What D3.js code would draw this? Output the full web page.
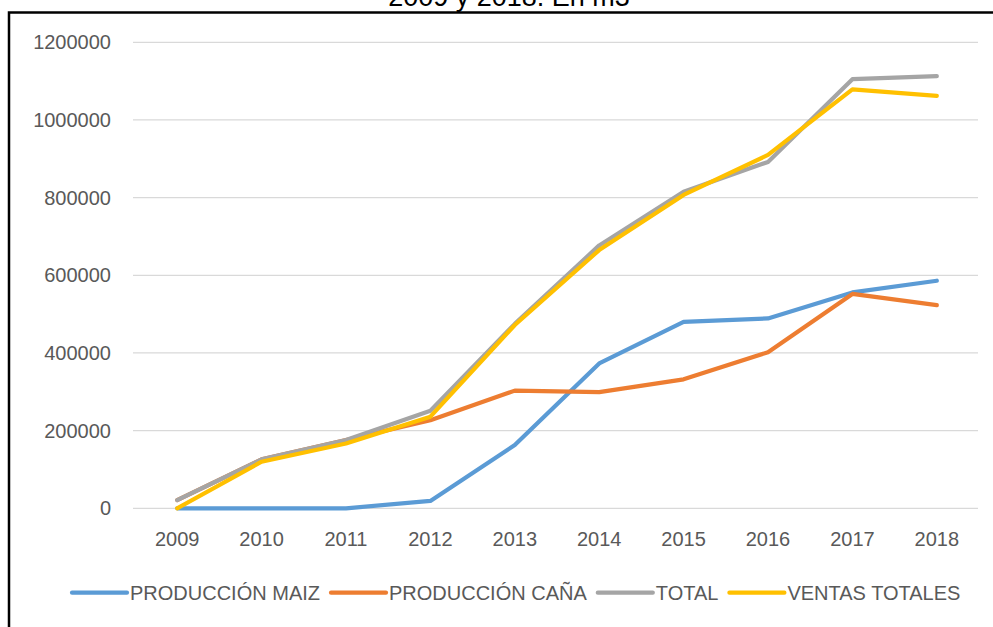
<!DOCTYPE html>
<html>
<head>
<meta charset="utf-8">
<script src="https://cdn.jsdelivr.net/npm/d3@7"></script>
<style>
  html, body { margin: 0; padding: 0; background: #fff; }
  svg text { font-family: "Liberation Sans", Arial, sans-serif; }
</style>
</head>
<body>
<div id="chart"></div>
<script>
// Values (m3 per year)
const years = ["2009", "2010", "2011", "2012", "2013", "2014", "2015", "2016", "2017", "2018"];
const produccionMaiz = [0, 0, 0, 19000, 163000, 373000, 480000, 489000, 556000, 586000];
const produccionCana = [21000, 126000, 176000, 227000, 303000, 299000, 332000, 402000, 552000, 523000];
const total = [21000, 126000, 176000, 251000, 475000, 677000, 815000, 892000, 1105000, 1113000];
const ventasTotales = [0, 120000, 167000, 236000, 472000, 665000, 807000, 910000, 1079000, 1062000];
const yTicks = [0, 200000, 400000, 600000, 800000, 1000000, 1200000];

const seriesNames = ["PRODUCCIÓN MAIZ", "PRODUCCIÓN CAÑA", "TOTAL", "VENTAS TOTALES"];
const seriesColors = ["#5B9BD5", "#ED7D31", "#A5A5A5", "#FFC000"];
const seriesValues = [produccionMaiz, produccionCana, total, ventasTotales];

function init() {
    const width = 993;
    const height = 627;

    const svg = d3.select("#chart").append("svg")
        .attr("width", width)
        .attr("height", height);

    svg.append("rect")
        .attr("width", width)
        .attr("height", height)
        .attr("fill", "#fff");

    // Title (second line, mostly cut off by the crop)
    svg.append("text")
        .attr("x", 509)
        .attr("y", 6)
        .attr("text-anchor", "middle")
        .style("font-size", "27px")
        .attr("fill", "#000")
        .text("2009 y 2018. En m3");

    // Chart frame, runs past the right and bottom edge
    svg.append("rect")
        .attr("x", 9)
        .attr("y", 12.5)
        .attr("width", width + 20)
        .attr("height", height + 20)
        .attr("fill", "none")
        .attr("stroke", "#000")
        .attr("stroke-width", 2.5);

    const x = d3.scaleBand()
        .domain(years)
        .range([135, 979])
        .padding(0);

    const y = d3.scaleLinear()
        .domain([0, 1200000])
        .range([508.3, 42.3]);

    // Gridlines
    svg.append("g")
        .selectAll("line")
        .data(yTicks)
        .join("line")
        .attr("x1", 133)
        .attr("x2", 978)
        .attr("y1", d => y(d))
        .attr("y2", d => y(d))
        .attr("stroke", "#D9D9D9")
        .attr("stroke-width", 1.3);

    // Y labels
    svg.append("g")
        .selectAll("text")
        .data(yTicks)
        .join("text")
        .attr("x", 111)
        .attr("y", d => y(d) + 7)
        .attr("text-anchor", "end")
        .style("font-size", "20px")
        .attr("fill", "#595959")
        .text(d => d);

    // X labels
    svg.append("g")
        .selectAll("text")
        .data(years)
        .join("text")
        .attr("x", d => x(d) + x.bandwidth() / 2)
        .attr("y", 546)
        .attr("text-anchor", "middle")
        .style("font-size", "20px")
        .attr("fill", "#595959")
        .text(d => d);

    // Lines
    const line = d3.line()
        .x((d, i) => x(years[i]) + x.bandwidth() / 2)
        .y(d => y(d));

    svg.append("g")
        .selectAll("path")
        .data(seriesValues)
        .join("path")
        .attr("d", line)
        .attr("fill", "none")
        .attr("stroke", (d, i) => seriesColors[i])
        .attr("stroke-width", 4.2)
        .attr("stroke-linejoin", "round")
        .attr("stroke-linecap", "round");

    // Legend
    const legend = svg.append("g");
    const lineLen = 55;
    let cx = 72;
    seriesNames.forEach(function(name, i) {
        legend.append("line")
            .attr("x1", cx)
            .attr("x2", cx + lineLen)
            .attr("y1", 592.7)
            .attr("y2", 592.7)
            .attr("stroke", seriesColors[i])
            .attr("stroke-width", 4.2)
            .attr("stroke-linecap", "round");
        const t = legend.append("text")
            .attr("x", cx + lineLen + 3)
            .attr("y", 600)
            .style("font-size", "20px")
            .attr("fill", "#595959")
            .text(name);
        cx += lineLen + 3 + t.node().getComputedTextLength() + 11;
    });
}

window.addEventListener('load', init);
</script>
</body>
</html>
